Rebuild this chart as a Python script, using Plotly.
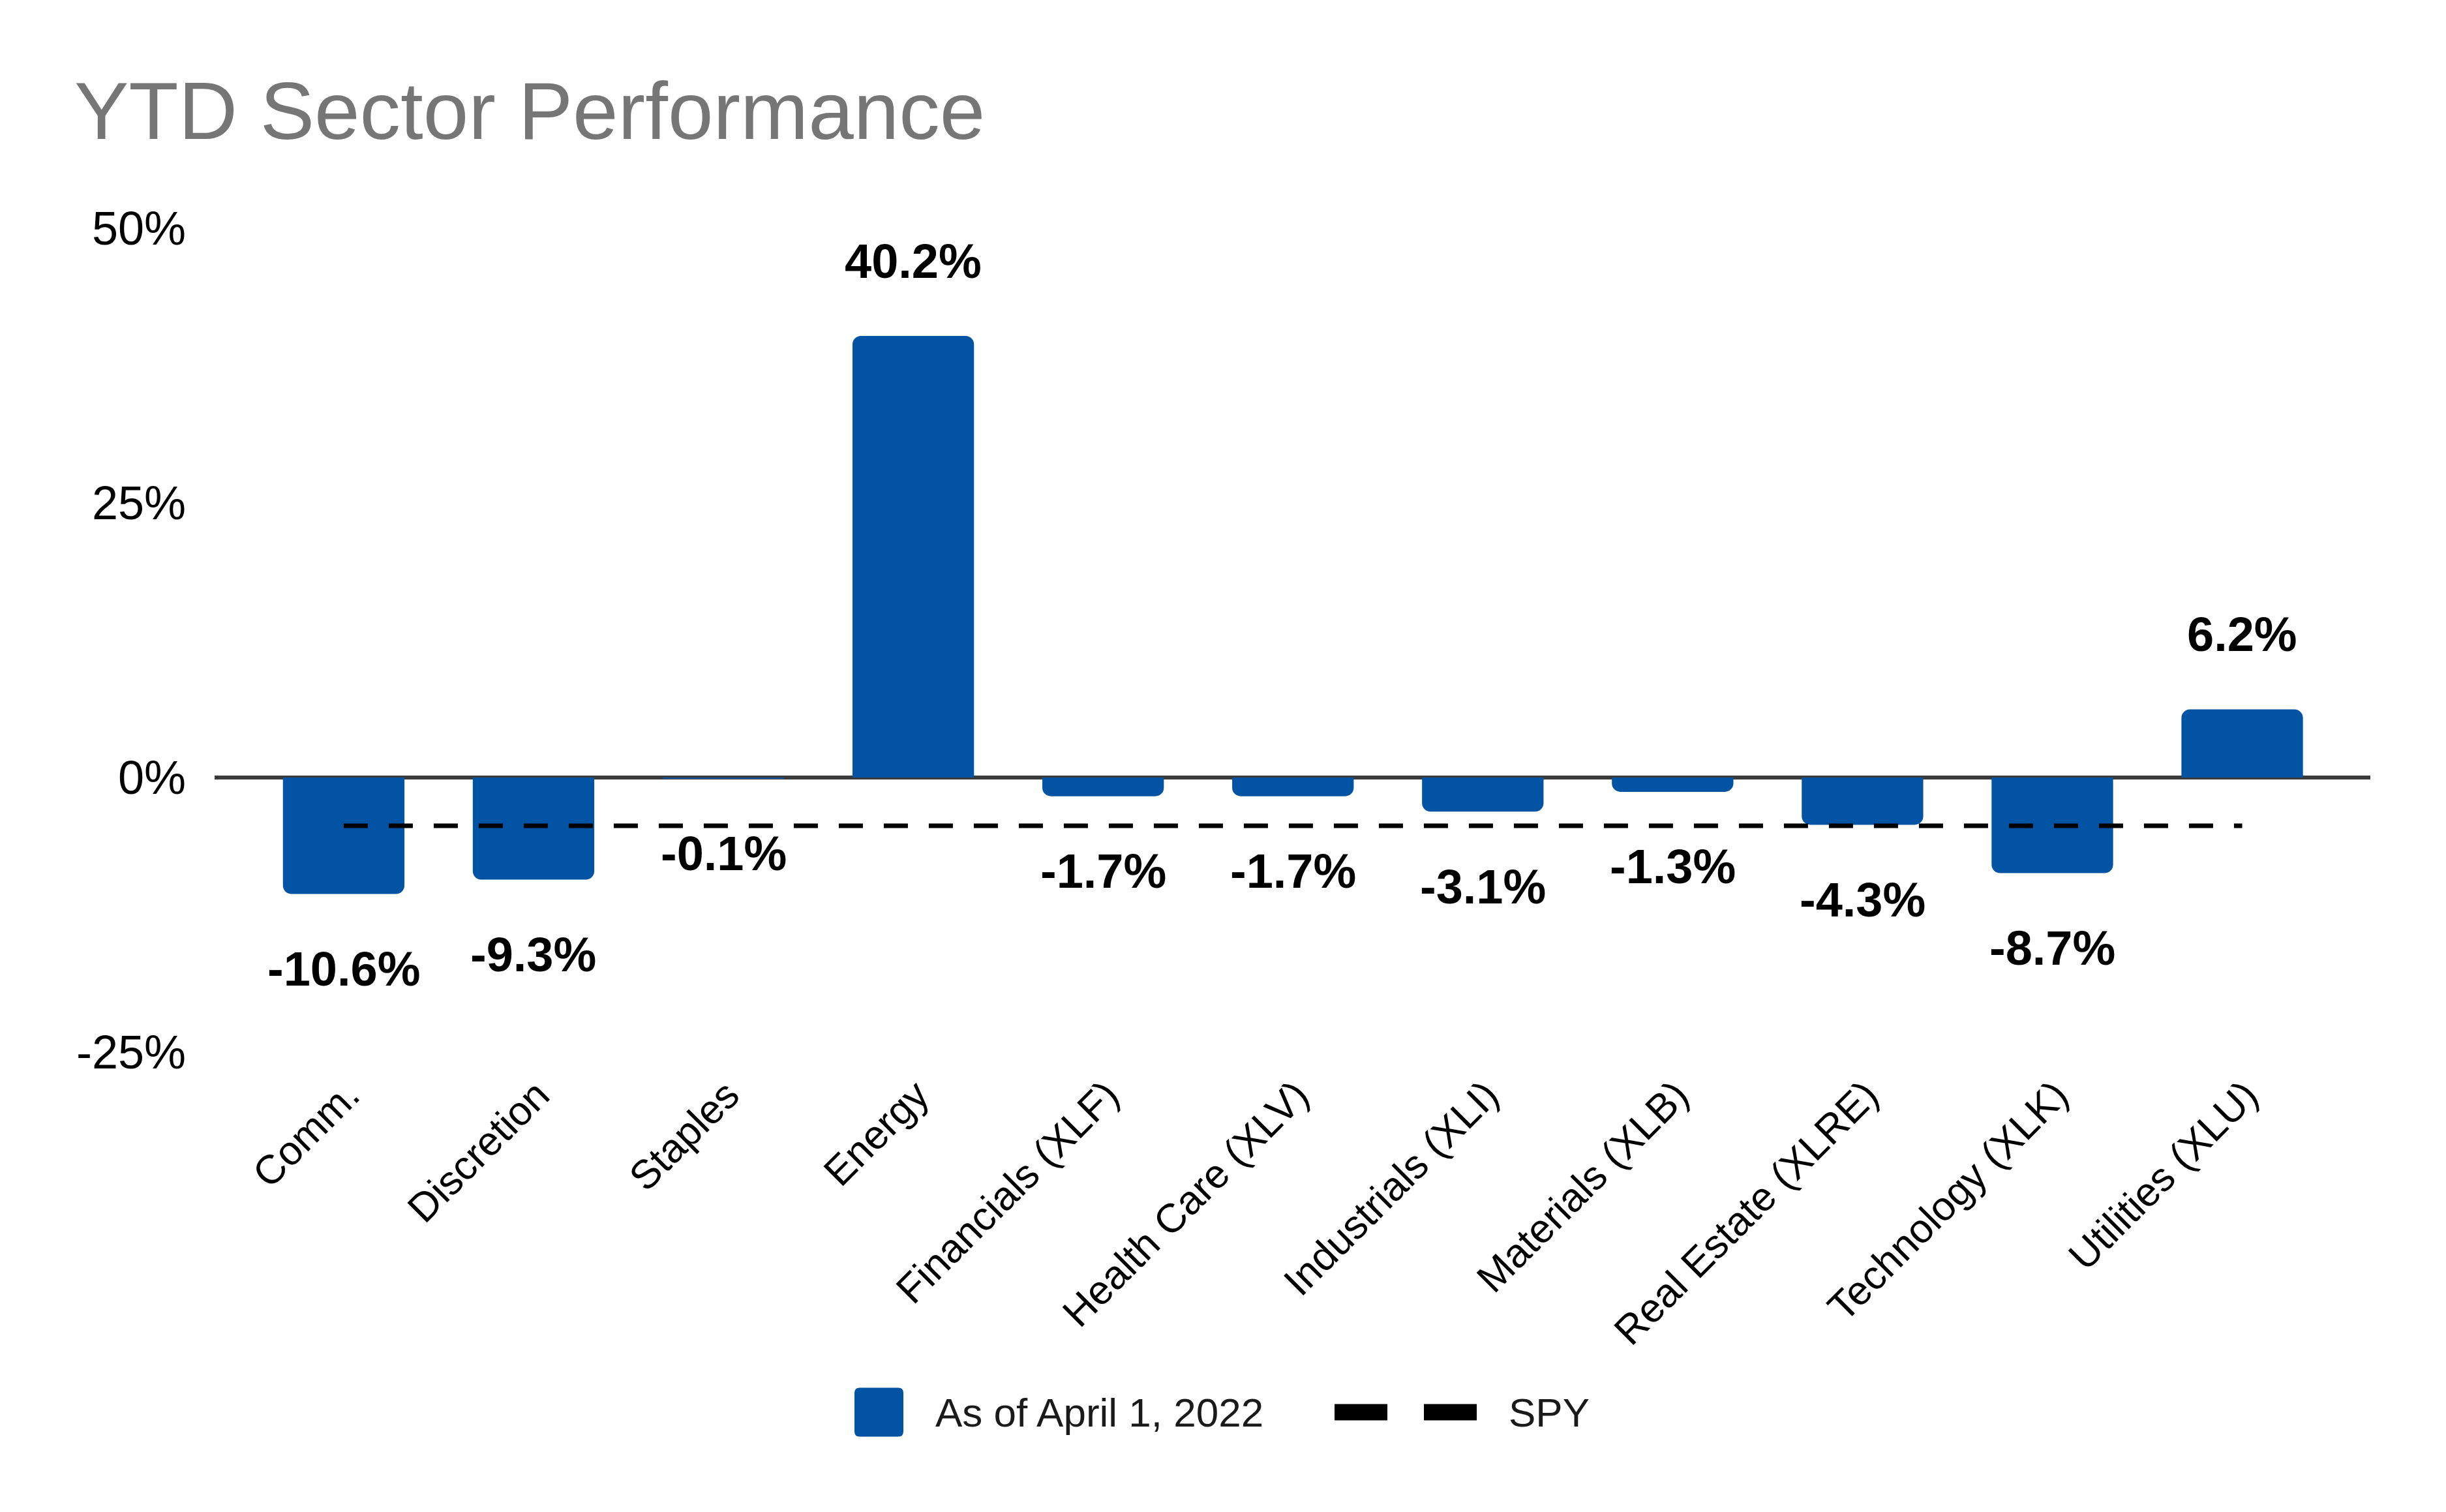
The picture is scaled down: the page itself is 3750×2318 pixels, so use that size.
import plotly.graph_objects as go

# ---- data ----
categories = ["Comm.", "Discretion", "Staples", "Energy", "Financials (XLF)",
              "Health Care (XLV)", "Industrials (XLI)", "Materials (XLB)",
              "Real Estate (XLRE)", "Technology (XLK)", "Utilities (XLU)"]
ytd_values = [-10.6, -9.3, -0.1, 40.2, -1.7, -1.7, -3.1, -1.3, -4.3, -8.7, 6.2]
spy_value = -4.4
bar_series_name = "As of April 1, 2022"
line_series_name = "SPY"
y_tick_values = [-25, 0, 25, 50]
y_tick_labels = ["-25%", "0%", "25%", "50%"]

# ---- layout constants (pixels, in page coordinates) ----
W, H = 3750, 2318
OFF = 8  # default page body margin
L, R, T, B = 329, 3634, 350, 1613
FONT = "Liberation Sans, Arial, sans-serif"
BLUE = "#0253A4"


def px2x(px):
    return (px - L) / (R - L)


def py2y(py):
    return (B - py) / (B - T)


fig = go.Figure()

fig.add_trace(go.Bar(
    x=categories, y=ytd_values, name=bar_series_name,
    marker=dict(color=BLUE, line=dict(width=0), cornerradius=13),
    width=0.64, showlegend=False, hoverinfo="x+y",
))

fig.add_trace(go.Scatter(
    x=categories, y=[spy_value] * len(categories), name=line_series_name,
    mode="lines", line=dict(color="black", width=7, dash="37px,32px"),
    showlegend=False,
))

annotations = []
for cat, v in zip(categories, ytd_values):
    annotations.append(dict(
        x=cat, y=v, xref="x", yref="y", text=f"{v:.1f}%",
        showarrow=False, yanchor="middle", xanchor="center",
        yshift=115 if v > 0 else -115,
        font=dict(family=FONT, size=74, color="black", weight="bold"),
    ))

# title
annotations.append(dict(
    x=px2x(112), y=py2y(170), xref="paper", yref="paper",
    text="YTD Sector Performance", showarrow=False,
    xanchor="left", yanchor="middle",
    font=dict(family=FONT, size=125, color="#767676"),
))

# custom legend texts
annotations.append(dict(
    x=px2x(1432), y=py2y(2165), xref="paper", yref="paper",
    text=bar_series_name, showarrow=False, xanchor="left", yanchor="middle",
    font=dict(family=FONT, size=62, color="#1a1a1a"),
))
annotations.append(dict(
    x=px2x(2311), y=py2y(2165), xref="paper", yref="paper",
    text=line_series_name, showarrow=False, xanchor="left", yanchor="middle",
    font=dict(family=FONT, size=62, color="#1a1a1a"),
))

h, r = 37.5, 8
swatch_path = (f"M {-h+r},{-h} L {h-r},{-h} Q {h},{-h} {h},{-h+r} "
               f"L {h},{h-r} Q {h},{h} {h-r},{h} L {-h+r},{h} Q {-h},{h} {-h},{h-r} "
               f"L {-h},{-h+r} Q {-h},{-h} {-h+r},{-h} Z")

shapes = [
    dict(type="path", xref="paper", yref="paper",
         xsizemode="pixel", ysizemode="pixel",
         xanchor=px2x(1347.5), yanchor=py2y(2165),
         path=swatch_path, fillcolor=BLUE, line=dict(width=0)),
    dict(type="line", xref="paper", yref="paper",
         x0=px2x(2046), x1=px2x(2264), y0=py2y(2165), y1=py2y(2165),
         line=dict(color="black", width=25, dash="81px,56px")),
]

fig.update_layout(
    template="none",
    width=W, height=H,
    margin=dict(l=L - OFF, r=W - (R - OFF), t=T - OFF, b=H - (B - OFF),
                pad=0, autoexpand=False),
    paper_bgcolor="white", plot_bgcolor="white",
    font=dict(family=FONT, color="black"),
    annotations=annotations, shapes=shapes,
    showlegend=False,
    bargap=0.36,
)

fig.update_xaxes(
    type="category", range=[-0.68, 10.675], showgrid=False, zeroline=False,
    showline=False, ticks="", tickangle=-45, automargin=False,
    tickfont=dict(family=FONT, size=62, color="black"),
    ticklabelstandoff=16, ticklabelshift=6,
)
fig.update_yaxes(
    range=[-25, 50], tickvals=y_tick_values, ticktext=y_tick_labels,
    showgrid=False, zeroline=True, zerolinecolor="#3a3a3a", zerolinewidth=6,
    showline=False, ticks="", automargin=False,
    tickfont=dict(family=FONT, size=72, color="black"),
    ticklabelstandoff=43,
)

fig.write_html("out.html")
